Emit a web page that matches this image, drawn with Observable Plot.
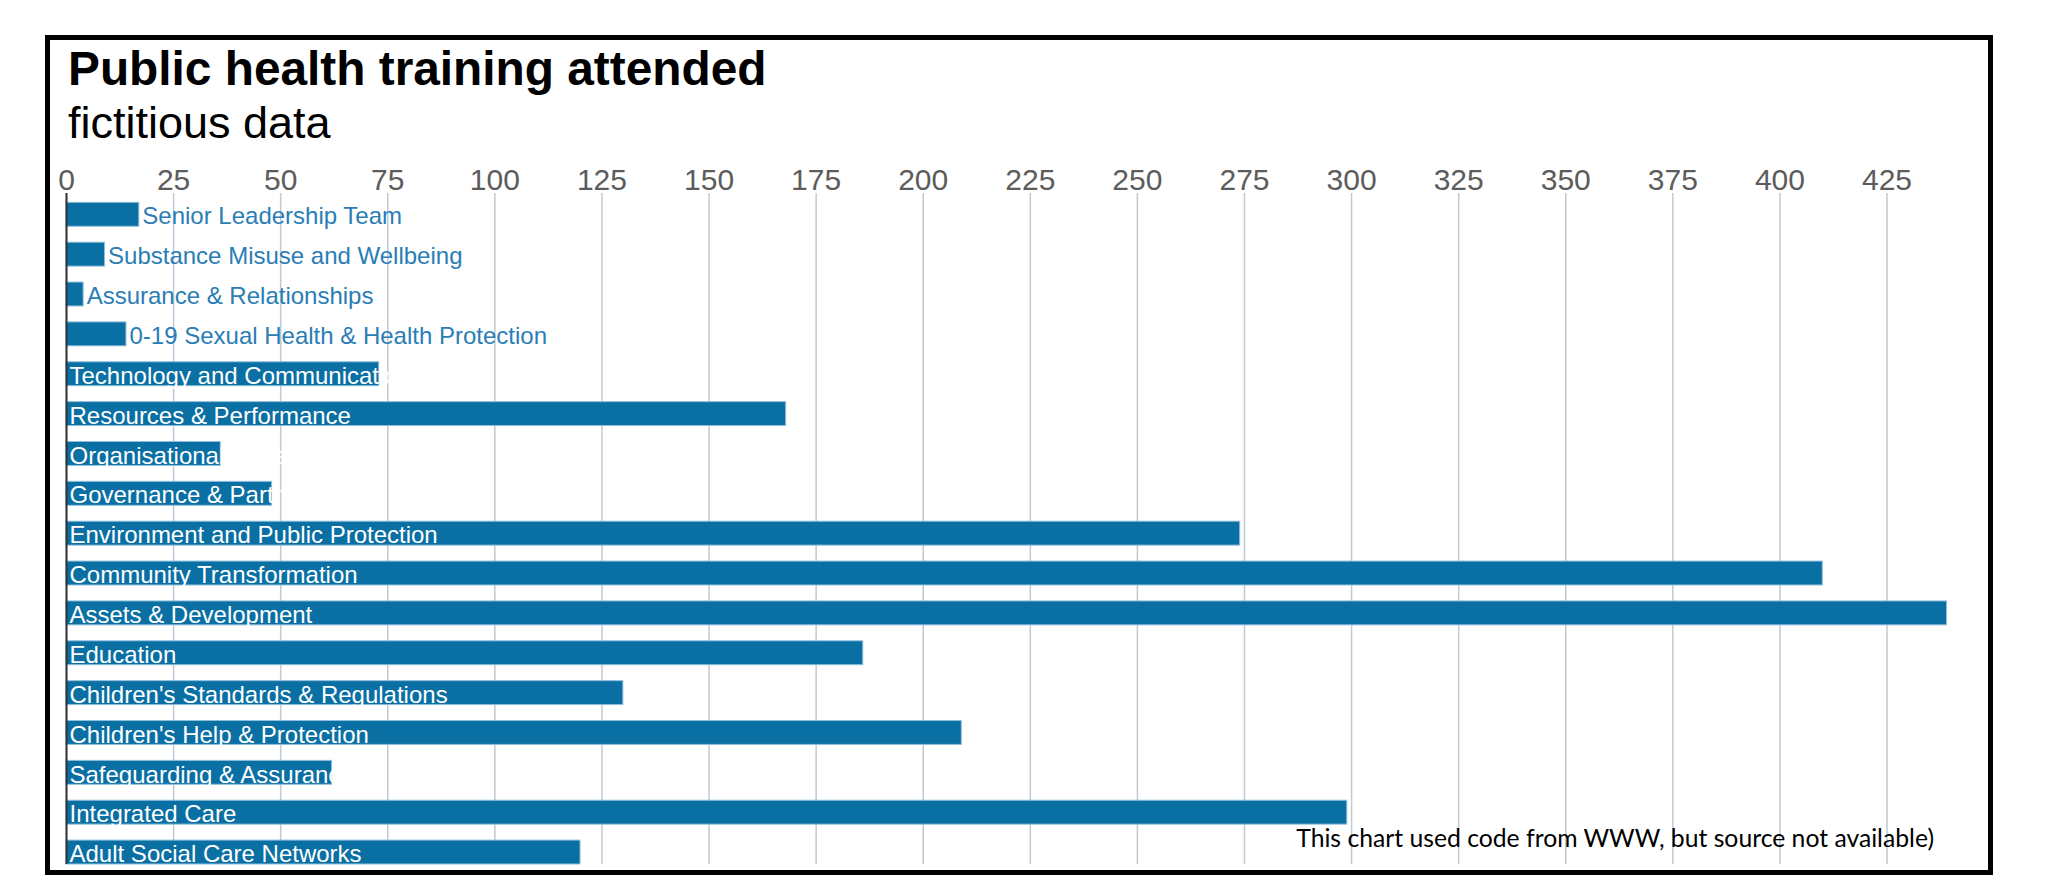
<!DOCTYPE html>
<html>
<head>
<meta charset="utf-8">
<script src="https://cdn.jsdelivr.net/npm/d3@7"></script>
<script src="https://cdn.jsdelivr.net/npm/@observablehq/plot@0.6"></script>
<style>
  html, body { margin: 0; padding: 0; background: #fff; overflow: hidden; }
  #page { position: relative; width: 2070px; height: 891px; font-family: "Liberation Sans", Arial, sans-serif; }
  #frame { position: absolute; left: 45px; top: 35px; width: 1948px; height: 840px; border: 5px solid #000; box-sizing: border-box; pointer-events: none; z-index: 3; }
  #title { position: absolute; left: 68px; top: 45px; font-size: 47.8px; line-height: 47.8px; font-weight: bold; color: #000; white-space: nowrap; }
  #subtitle { position: absolute; left: 68px; top: 100px; font-size: 45px; line-height: 45px; color: #000; white-space: nowrap; }
  #chart { position: absolute; left: 0; top: 150px; }
  #caption { position: absolute; right: 136px; top: 823px; font-family: Lato, "Open Sans", sans-serif; font-size: 24px; line-height: 30px; color: #000; white-space: nowrap; z-index: 2; }
</style>
</head>
<body>
<div id="page">
  <div id="title">Public health training attended</div>
  <div id="subtitle">fictitious data</div>
  <div id="chart"></div>
  <div id="caption">This chart used code from WWW, but source not available)</div>
  <div id="frame"></div>
</div>
<script>
// Teams, in display order (top to bottom)
const divisions = [
  "Senior Leadership Team",
  "Substance Misuse and Wellbeing",
  "Assurance & Relationships",
  "0-19 Sexual Health & Health Protection",
  "Technology and Communications",
  "Resources & Performance",
  "Organisational Development",
  "Governance & Partnerships",
  "Environment and Public Protection",
  "Community Transformation",
  "Assets & Development",
  "Education",
  "Children's Standards & Regulations",
  "Children's Help & Protection",
  "Safeguarding & Assurance",
  "Integrated Care",
  "Adult Social Care Networks"
];

// Number of staff who attended public health training
const attended = [17, 9, 4, 14, 73, 168, 36, 48, 274, 410, 439, 186, 130, 209, 62, 299, 120];

// Values shown along the top axis
const xTicks = [0, 25, 50, 75, 100, 125, 150, 175, 200, 225, 250, 275, 300, 325, 350, 375, 400, 425];

const rows = divisions.map((name, i) => ({name, value: attended[i]}));

// Bars too short to hold their label get it placed after the bar instead
const fitsInside = d => d.value >= 20;

const chart = Plot.plot({
  width: 2070,
  height: 741,
  marginLeft: 66,
  marginRight: 123.5,
  marginTop: 43,
  marginBottom: 27,
  style: {background: "transparent", fontFamily: "'Liberation Sans', Arial, sans-serif", maxWidth: "none"},
  x: {domain: [0, d3.max(attended)], label: null, axis: null},
  y: {domain: divisions, paddingInner: 0.4, paddingOuter: 0.117, align: 1, round: false, axis: null},
  marks: [
    Plot.gridX(xTicks, {stroke: "#bccbd6", strokeOpacity: 1, strokeWidth: 1.5}),
    Plot.axisX(xTicks, {anchor: "top", tickSize: 0, tickPadding: 4, fontSize: 30, color: "#5c5c5c", label: null}),
    Plot.barX(rows, {x: "value", y: "name", fill: "#0a6fa3", stroke: "#8fbfdc", strokeWidth: 1}),
    Plot.ruleX([0], {stroke: "#333", strokeWidth: 2}),
    Plot.text(rows, {filter: fitsInside, x: 0, y: "name", text: "name", textAnchor: "start", dx: 3, dy: 2, fill: "white", fontSize: 24}),
    Plot.text(rows, {filter: d => !fitsInside(d), x: "value", y: "name", text: "name", textAnchor: "start", dx: 3, dy: 2, fill: "#2a7db5", fontSize: 24})
  ]
});
document.getElementById("chart").appendChild(chart);

// Fit the source note to its line length
const cap = document.getElementById("caption");
const w = cap.getBoundingClientRect().width;
cap.style.fontSize = (24 * 638 / w).toFixed(2) + "px";
</script>
</body>
</html>
